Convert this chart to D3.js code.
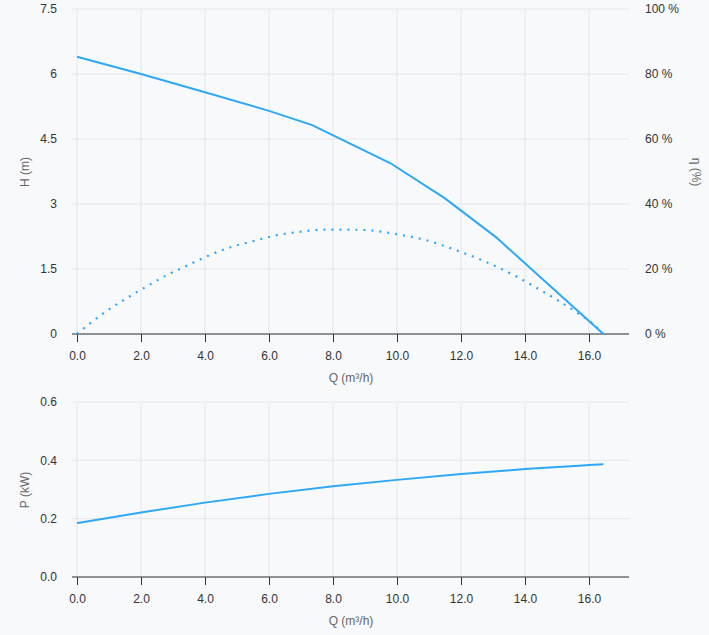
<!DOCTYPE html>
<html>
<head>
<meta charset="utf-8">
<script src="https://cdn.jsdelivr.net/npm/d3@7/dist/d3.min.js"></script>
<style>
  body { margin: 0; background: #f7f9fb; }
  svg { display: block; font-family: "Liberation Sans", Arial, sans-serif; }
  .tick text { fill: #333; font-size: 12px; }
  .title { fill: #666; font-size: 12px; }
</style>
</head>
<body>
<div id="chart"></div>
<script>
// head curve H (m) vs flow Q (m3/h)
var headQ = [0, 2, 4, 6, 7.35, 9.8, 11.5, 13.1, 16.45]
var headH = [6.4, 6.0, 5.58, 5.15, 4.82, 3.94, 3.13, 2.23, 0]

// efficiency curve (%)
var effQ = [0, 0.8, 1.45, 2.1, 2.75, 3.45, 4.1, 4.8, 5.55, 6.25, 7.0, 7.75, 8.5, 9.0, 10.0, 10.9, 11.9, 13.05, 13.75, 14.4, 15.05, 15.7, 16.1, 16.45]
var effVal = [0, 6.2, 10.4, 14.2, 17.8, 21.1, 24.1, 26.7, 28.7, 30.4, 31.5, 32.1, 32.1, 32.0, 30.7, 28.9, 25.6, 21.0, 17.6, 14.0, 10.2, 6.1, 3.3, 0]

// power curve P (kW)
var powQ = [0, 2, 4, 6, 8, 10, 12, 14, 16, 16.45]
var powP = [0.185, 0.221, 0.255, 0.285, 0.311, 0.333, 0.353, 0.370, 0.384, 0.387]

var xTicks = [0, 2, 4, 6, 8, 10, 12, 14, 16]
var hTicks = [0, 1.5, 3, 4.5, 6, 7.5]
var effTicks = [0, 20, 40, 60, 80, 100]
var pTicks = [0, 0.2, 0.4, 0.6]

var width = 709, height = 635
var lineColor = "#2ea8f6"
var gridColor = "#e4e6ea"
var left = 72, right = 629

var svg = d3.select('#chart').append('svg')
    .attr('width', width)
    .attr('height', height)

var xScale = d3.scaleLinear().domain([0, 17.25]).range([77, right])

function drawPanel(top, bottom, yScale, yTicks, yFormat) {
    var g = svg.append('g')
    // horizontal grid
    g.selectAll('line.hgrid').data(yTicks).enter().append('line')
        .attr('x1', left).attr('x2', right)
        .attr('y1', function(d) { return yScale(d) }).attr('y2', function(d) { return yScale(d) })
        .attr('stroke', gridColor).attr('stroke-width', 1)
    // vertical grid
    g.selectAll('line.vgrid').data(xTicks).enter().append('line')
        .attr('x1', function(d) { return xScale(d) }).attr('x2', function(d) { return xScale(d) })
        .attr('y1', top).attr('y2', bottom)
        .attr('stroke', gridColor).attr('stroke-width', 1)

    var yAxis = d3.axisLeft(yScale).tickValues(yTicks).tickFormat(yFormat).tickSize(0).tickPadding(15)
    var ya = svg.append('g').attr('transform', 'translate(' + left + ',0)').call(yAxis)
    ya.select('.domain').remove()

    var xAxis = d3.axisBottom(xScale).tickValues(xTicks).tickFormat(d3.format('.1f')).tickSizeOuter(0).tickSize(8).tickPadding(9)
    var xa = svg.append('g').attr('transform', 'translate(0,' + bottom + ')').call(xAxis)
    xa.select('.domain').remove()
    xa.selectAll('.tick line').attr('stroke', '#333')
    svg.append('line')
        .attr('x1', left).attr('x2', right)
        .attr('y1', bottom).attr('y2', bottom)
        .attr('stroke', '#333').attr('stroke-width', 1.2)
    return ya
}

// top panel: H and efficiency
var hScale = d3.scaleLinear().domain([0, 7.5]).range([334, 9])
var effScale = d3.scaleLinear().domain([0, 100]).range([334, 9])
drawPanel(9, 334, hScale, hTicks, function(d) { return d })

var effAxis = d3.axisRight(effScale).tickValues(effTicks).tickFormat(function(d) { return d + ' %' }).tickSize(0).tickPadding(16)
svg.append('g').attr('transform', 'translate(' + right + ',0)').call(effAxis).select('.domain').remove()

var headLine = d3.line()
    .x(function(d, i) { return xScale(headQ[i]) })
    .y(function(d) { return hScale(d) })
svg.append('path')
    .attr('d', headLine(headH))
    .attr('fill', 'none')
    .attr('stroke', lineColor)
    .attr('stroke-width', 2)

var effLine = d3.line()
    .x(function(d, i) { return xScale(effQ[i]) })
    .y(function(d) { return effScale(d) })
    .curve(d3.curveMonotoneX)
svg.append('path')
    .attr('d', effLine(effVal))
    .attr('fill', 'none')
    .attr('stroke', lineColor)
    .attr('stroke-width', 2.2)
    .attr('stroke-dasharray', '2,6')

svg.append('text').attr('class', 'title')
    .attr('transform', 'translate(29,172) rotate(-90)')
    .attr('text-anchor', 'middle')
    .text('H (m)')
svg.append('text').attr('class', 'title')
    .attr('transform', 'translate(692,172) rotate(90)')
    .attr('text-anchor', 'middle')
    .text('η (%)')
svg.append('text').attr('class', 'title')
    .attr('x', 351).attr('y', 382)
    .attr('text-anchor', 'middle')
    .text('Q (m³/h)')

// bottom panel: power
var pScale = d3.scaleLinear().domain([0, 0.6]).range([577, 402])
drawPanel(402, 577, pScale, pTicks, d3.format('.1f'))

var powLine = d3.line()
    .x(function(d, i) { return xScale(powQ[i]) })
    .y(function(d) { return pScale(d) })
    .curve(d3.curveMonotoneX)
svg.append('path')
    .attr('d', powLine(powP))
    .attr('fill', 'none')
    .attr('stroke', lineColor)
    .attr('stroke-width', 2)

svg.append('text').attr('class', 'title')
    .attr('transform', 'translate(29,490) rotate(-90)')
    .attr('text-anchor', 'middle')
    .text('P (kW)')
svg.append('text').attr('class', 'title')
    .attr('x', 351).attr('y', 625)
    .attr('text-anchor', 'middle')
    .text('Q (m³/h)')
</script>
</body>
</html>
